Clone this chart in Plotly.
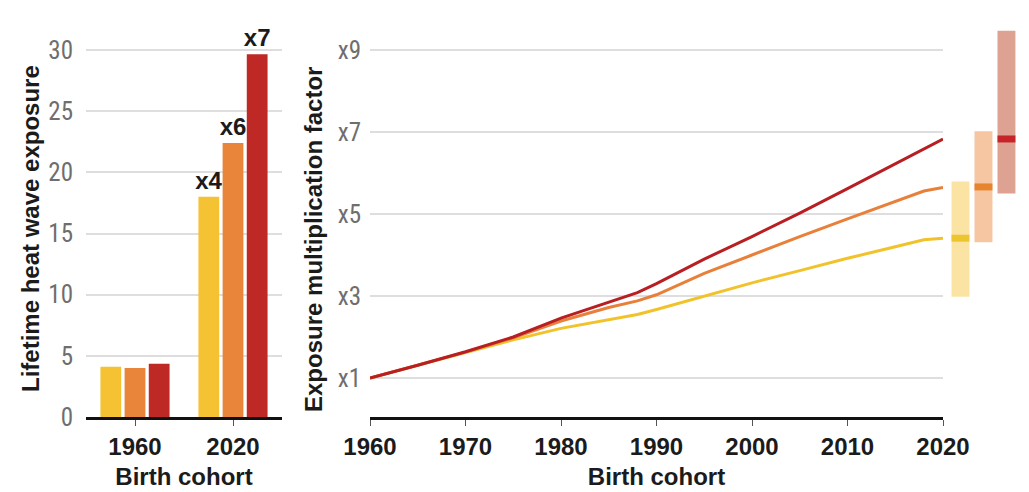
import plotly.graph_objects as go

# ---- data -------------------------------------------------------------
cohorts = ["1960", "2020"]
scenarios = ["low", "mid", "high"]
exposure_1960 = [4.1, 4.0, 4.35]
exposure_2020 = [18.0, 22.4, 29.65]
multiplier_labels = ["x4", "x6", "x7"]

years = [1960, 1965, 1970, 1975, 1980, 1985, 1988, 1990, 1995, 2000, 2005, 2010, 2015, 2018, 2020]
factor_low = [1.0, 1.31, 1.62, 1.93, 2.21, 2.42, 2.55, 2.67, 3.0, 3.32, 3.62, 3.92, 4.2, 4.37, 4.41]
factor_mid = [1.0, 1.31, 1.63, 1.98, 2.39, 2.72, 2.88, 3.03, 3.55, 4.0, 4.45, 4.88, 5.3, 5.56, 5.65]
factor_high = [1.0, 1.31, 1.64, 2.0, 2.46, 2.85, 3.08, 3.3, 3.9, 4.45, 5.02, 5.62, 6.22, 6.6, 6.83]

range_low = [2.98, 4.31, 5.50]
range_high = [5.79, 7.02, 9.47]
range_median = [4.41, 5.66, 6.83]

y_ticks_left = [0, 5, 10, 15, 20, 25, 30]
y_ticks_right = [1, 3, 5, 7, 9]
y_ticktext_right = ["x1", "x3", "x5", "x7", "x9"]
x_ticks_right = [1960, 1970, 1980, 1990, 2000, 2010, 2020]

# ---- styling ----------------------------------------------------------
W, H = 1029, 492
bar_colors = ["#F4C232", "#E8853A", "#BE2926"]
line_colors = ["#F2C22A", "#E9803A", "#B71F22"]
box_colors = ["#FBE4A3", "#F6C6A2", "#DDA291"]
median_colors = ["#EDC52E", "#E8842E", "#C6232A"]

TICK_FONT = dict(family="Liberation Sans Narrow, Roboto Condensed, Liberation Sans, Arial",
                 size=25, color="#6e6e6e")
BOLD_FONT = dict(family="Liberation Sans, Arial", size=24, color="#1b1b1b", weight="bold")
LABEL_FONT = dict(family="Liberation Sans, Arial", size=24, color="#1b1b1b", weight="bold")


def px_x(p):
    return p / W


def px_y(p):
    return (H - p) / H


y_dom = [px_y(417), px_y(28)]

fig = go.Figure()

# left panel: grouped bars
for i in range(3):
    fig.add_trace(go.Bar(
        x=cohorts,
        y=[exposure_1960[i], exposure_2020[i]],
        name=scenarios[i],
        marker=dict(color=bar_colors[i], line=dict(width=0)),
        text=["", multiplier_labels[i]],
        textposition="outside",
        textfont=LABEL_FONT,
        constraintext="none",
        cliponaxis=False,
        xaxis="x", yaxis="y",
    ))

# right panel: multiplication factor lines
for vals, col, name in zip([factor_low, factor_mid, factor_high], line_colors, scenarios):
    fig.add_trace(go.Scatter(
        x=years, y=vals, mode="lines", name=name,
        line=dict(color=col, width=3),
        xaxis="x2", yaxis="y2",
    ))

# range boxes with median bands
slots = [0, 1, 2]
fig.add_trace(go.Bar(
    x=slots,
    y=[h - l for h, l in zip(range_high, range_low)],
    base=range_low,
    width=0.78,
    offsetgroup="rng",
    marker=dict(color=box_colors, line=dict(width=0)),
    xaxis="x3", yaxis="y3",
))
band = 0.17
fig.add_trace(go.Bar(
    x=slots,
    y=[band] * 3,
    base=[m - band / 2 for m in range_median],
    width=0.78,
    offsetgroup="rng",
    marker=dict(color=median_colors, line=dict(width=0)),
    xaxis="x3", yaxis="y3",
))

left_top = 30 + (50 - 28) / ((417 - 50) / 30)
right_bottom = 1 - (417 - 378) / 41
right_top = 9 + (50 - 28) / 41

fig.update_layout(
    width=W, height=H,
    margin=dict(l=0, r=0, t=0, b=0),
    paper_bgcolor="white", plot_bgcolor="white",
    showlegend=False,
    barmode="group",
    bargap=0.26,
    bargroupgap=0.14,
    xaxis=dict(
        domain=[px_x(86), px_x(282)], anchor="y", type="category",
        range=[-0.5, 1.5], automargin=False,
        showline=True, linewidth=3, linecolor="#111111",
        ticks="outside", ticklen=6, tickwidth=1, tickcolor="#555555",
        tickfont=BOLD_FONT, showgrid=False,
        title=dict(text="Birth cohort", font=BOLD_FONT, standoff=10),
    ),
    yaxis=dict(
        domain=y_dom, anchor="x", range=[0, left_top], automargin=False,
        tickvals=y_ticks_left, tickfont=TICK_FONT,
        showgrid=True, gridcolor="#dedede", gridwidth=1.5,
        zeroline=False, showline=False, ticks="", ticklabelstandoff=12,
    ),
    xaxis2=dict(
        domain=[px_x(370), px_x(943)], anchor="y2", automargin=False,
        range=[1960, 2020], tickvals=x_ticks_right,
        showline=True, linewidth=3, linecolor="#111111",
        ticks="outside", ticklen=6, tickwidth=1, tickcolor="#555555",
        tickfont=BOLD_FONT, showgrid=False, zeroline=False,
        title=dict(text="Birth cohort", font=BOLD_FONT, standoff=10),
    ),
    yaxis2=dict(
        domain=y_dom, anchor="x2", range=[right_bottom, right_top], automargin=False,
        tickvals=y_ticks_right, ticktext=y_ticktext_right, tickfont=TICK_FONT,
        showgrid=True, gridcolor="#dedede", gridwidth=1.5,
        zeroline=False, showline=False, ticks="", ticklabelstandoff=8,
    ),
    xaxis3=dict(
        domain=[px_x(943), 1.0], anchor="y3", automargin=False,
        range=[-0.76, 2.98], visible=False,
    ),
    yaxis3=dict(
        domain=y_dom, anchor="x3", range=[right_bottom, right_top], automargin=False,
        visible=False, showgrid=False,
    ),
    annotations=[
        dict(text="Lifetime heat wave exposure", textangle=-90,
             x=px_x(30), y=px_y(229), xref="paper", yref="paper",
             xanchor="center", yanchor="middle",
             showarrow=False, font=BOLD_FONT),
        dict(text="Exposure multiplication factor", textangle=-90,
             x=px_x(313), y=px_y(240), xref="paper", yref="paper",
             xanchor="center", yanchor="middle",
             showarrow=False, font=BOLD_FONT),
    ],
)

fig.write_html("out.html")
